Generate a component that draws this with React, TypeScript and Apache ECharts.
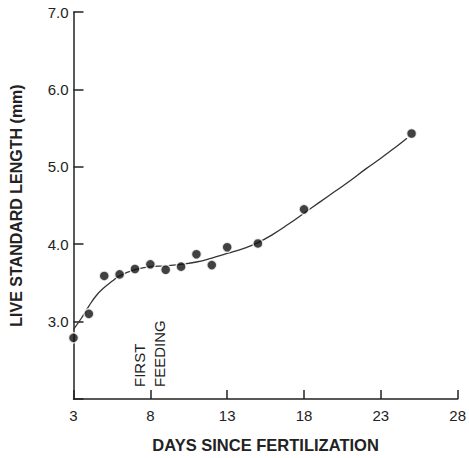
import React, { useEffect, useRef } from "react";
import * as echarts from "echarts";

const days = [3, 4, 5, 6, 7, 8, 9, 10, 11, 12, 13, 15, 18, 25];
const lengths = [2.79, 3.1, 3.59, 3.61, 3.68, 3.74, 3.67, 3.71, 3.87, 3.73, 3.96, 4.01, 4.45, 5.43];

const fitDays = [3, 3.5, 4, 4.5, 5, 5.5, 6, 7, 8, 9, 10, 11, 12, 13, 14, 15, 16, 17, 18, 19, 20, 21, 22, 23, 24, 24.7];
const fitLengths = [2.9, 3.04, 3.2, 3.34, 3.44, 3.52, 3.59, 3.67, 3.71, 3.72, 3.74, 3.77, 3.82, 3.88, 3.94, 4.02, 4.13, 4.26, 4.4, 4.54, 4.68, 4.82, 4.97, 5.11, 5.26, 5.37];

const xTicks = [3, 8, 13, 18, 23, 28];
const yTicks = [2, 3, 4, 5, 6, 7];
const annotationDay = 8;
const annotationLines = ["FIRST", "FEEDING"];

const FONT = "'Liberation Sans', Arial, Helvetica, sans-serif";
const INK = "#222";

export default function App() {
  const ref = useRef<HTMLDivElement>(null);
  useEffect(() => {
    if (!ref.current) return;
    document.body.style.margin = "0";
    const chart = echarts.init(ref.current, null, { renderer: "svg" });
    chart.setOption({
      animation: false,
      backgroundColor: "#fff",
      grid: { left: 72, right: 10, top: 12, bottom: 57.5, containLabel: false },
      xAxis: {
        type: "value",
        min: xTicks[0],
        max: xTicks[xTicks.length - 1],
        interval: xTicks[1] - xTicks[0],
        name: "DAYS SINCE FERTILIZATION",
        nameLocation: "middle",
        nameGap: 37,
        nameTextStyle: { fontFamily: FONT, fontSize: 16.5, fontWeight: "bold", color: INK },
        axisLine: { lineStyle: { color: INK, width: 1.5 } },
        axisTick: { inside: true, length: 9, lineStyle: { color: INK, width: 1.5 } },
        axisLabel: { fontFamily: FONT, fontSize: 15, color: INK, margin: 9 },
        splitLine: { show: false },
      },
      yAxis: {
        type: "value",
        min: yTicks[0],
        max: yTicks[yTicks.length - 1],
        interval: 1,
        name: "LIVE STANDARD LENGTH (mm)",
        nameLocation: "middle",
        nameGap: 49.5,
        nameTextStyle: { fontFamily: FONT, fontSize: 16, fontWeight: "bold", color: INK },
        axisLine: { show: true, lineStyle: { color: INK, width: 1.5 } },
        axisTick: { show: true, inside: true, length: 10, lineStyle: { color: INK, width: 1.5 } },
        axisLabel: {
          fontFamily: FONT,
          fontSize: 15,
          color: INK,
          margin: 5,
          formatter: (v: number) => (v === yTicks[0] ? "" : v.toFixed(1)),
        },
        splitLine: { show: false },
      },
      series: [
        {
          type: "line",
          data: fitDays.map((d, i) => [d, fitLengths[i]]),
          smooth: 0.5,
          showSymbol: false,
          lineStyle: { color: "#333", width: 1.3 },
          z: 2,
        },
        {
          type: "scatter",
          data: days.map((d, i) => [d, lengths[i]]),
          symbolSize: 10,
          itemStyle: { color: "#111", borderColor: "#fff", borderWidth: 1.5 },
          z: 3,
        },
      ],
    });
    const base = chart.convertToPixel({ gridIndex: 0 }, [annotationDay, yTicks[0]]) as number[];
    const offsets = [-10.5, 9.5];
    chart.setOption({
      graphic: annotationLines.map((t, i) => ({
        type: "text",
        x: base[0] + offsets[i],
        y: base[1] - 12,
        rotation: Math.PI / 2,
        style: {
          text: t,
          fontFamily: FONT,
          fontSize: 15,
          fill: INK,
          align: "left",
          verticalAlign: "middle",
        },
      })),
    });
    return () => chart.dispose();
  }, []);
  return <div ref={ref} style={{ width: 469, height: 458 }} />;
}
